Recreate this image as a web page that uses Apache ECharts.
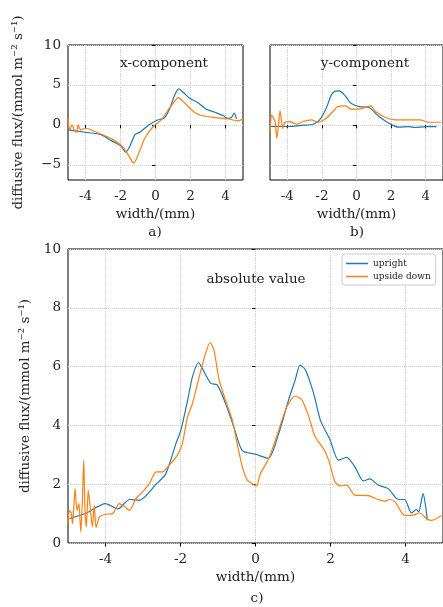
<!DOCTYPE html>
<html lang="en">
<head>
    <meta charset="UTF-8">
    <title>diffusive flux</title>
    <script src="https://cdn.jsdelivr.net/npm/echarts@6/dist/echarts.min.js"></script>
</head>
<body style="margin:0">
    <div id="chart" style="width:443px;height:607px;"></div>
    <script>
        // a) x-component
        var xcompUpWidth = [-4.99, -4.04, -3.09, -2.51, -1.94, -1.71, -1.47, -1.18, -0.9, -0.42, 0.06, 0.53, 0.82, 1.1, 1.33, 1.58, 1.96, 2.44, 2.91, 3.39, 3.87, 4.11, 4.34, 4.5, 4.63];
        var xcompUpFlux  = [-0.63, -0.92, -1.25, -2.0, -2.7, -3.42, -2.7, -1.25, -0.92, -0.08, 0.54, 0.92, 2.08, 3.75, 4.5, 4.08, 3.33, 2.75, 1.96, 1.58, 1.17, 0.83, 0.92, 1.46, 0.75];
        var xcompDownWidth = [-4.99, -4.9, -4.76, -4.65, -4.51, -4.42, -4.27, -4.04, -3.75, -3.47, -3.09, -2.51, -1.94, -1.56, -1.24, -0.99, -0.61, -0.13, 0.34, 0.72, 1.01, 1.3, 1.68, 2.25, 2.63, 3.39, 4.15, 4.72, 5.0];
        var xcompDownFlux  = [0.83, -0.63, 0, -0.63, -0.92, 0, -0.63, -0.42, -0.55, -0.83, -1.17, -1.75, -2.6, -3.75, -4.8, -3.75, -1.67, -0.2, 0.63, 1.88, 2.7, 3.42, 2.7, 1.54, 1.17, 0.92, 0.75, 0.5, 0.75];

        // b) y-component
        var ycompUpWidth = [-4.99, -4.04, -3.09, -2.51, -2.13, -1.75, -1.47, -1.28, -0.99, -0.7, -0.32, 0.15, 0.72, 1.3, 1.87, 2.44, 3.01, 3.39, 3.96, 4.63];
        var ycompUpFlux  = [-0.2, -0.2, -0.04, 0.08, 0.63, 2.08, 3.67, 4.17, 4.25, 3.75, 2.7, 2.29, 2.17, 1.04, 0.21, -0.29, -0.21, -0.33, -0.21, -0.21];
        var ycompDownWidth = [-4.99, -4.9, -4.8, -4.7, -4.61, -4.51, -4.42, -4.32, -4.27, -4.13, -3.85, -3.47, -3.09, -2.61, -2.23, -1.75, -1.37, -1.09, -0.61, -0.32, 0.15, 0.53, 0.82, 1.1, 1.68, 2.25, 3.01, 3.68, 4.15, 4.88];
        var ycompDownFlux  = [-0.83, 1.25, 0.83, 0.4, -1.67, 0, 1.75, 0.2, -0.42, 0.33, 0.42, 0.08, 0.42, 0.63, 0.33, 0.83, 1.67, 2.29, 2.38, 1.96, 1.96, 2.21, 2.38, 1.67, 0.92, 0.63, 0.63, 0.63, 0.33, 0.33];

        // c) absolute value
        var absUpWidth = [-4.96, -4.51, -4.0, -3.67, -3.36, -3.1, -2.65, -2.39, -2.12, -1.99, -1.81, -1.68, -1.52, -1.42, -1.19, -1.02, -0.8, -0.58, -0.35, 0, 0.34, 0.62, 0.88, 1.06, 1.19, 1.33, 1.55, 1.73, 1.99, 2.21, 2.43, 2.65, 2.88, 3.05, 3.27, 3.54, 3.76, 3.89, 3.98, 4.16, 4.29, 4.35, 4.47, 4.54, 4.58];
        var absUpFlux  = [0.83, 1.02, 1.34, 1.16, 1.48, 1.45, 2.0, 2.36, 3.39, 3.84, 4.86, 5.66, 6.14, 5.94, 5.43, 5.38, 4.75, 3.95, 3.14, 3.02, 2.88, 3.73, 4.86, 5.55, 6.05, 5.89, 5.09, 4.18, 3.5, 2.82, 2.91, 2.59, 2.11, 2.18, 1.97, 1.85, 1.51, 1.48, 1.48, 1.02, 1.14, 1.06, 1.68, 1.23, 0.77];
        var absDownWidth = [-5.0, -4.96, -4.91, -4.88, -4.85, -4.81, -4.76, -4.71, -4.66, -4.62, -4.58, -4.55, -4.51, -4.46, -4.41, -4.35, -4.3, -4.25, -4.16, -3.98, -3.81, -3.63, -3.5, -3.36, -3.19, -3.01, -2.83, -2.65, -2.48, -2.3, -2.08, -1.95, -1.81, -1.68, -1.5, -1.33, -1.21, -1.11, -0.97, -0.8, -0.62, -0.49, -0.35, -0.22, -0.09, 0.02, 0.13, 0.31, 0.44, 0.62, 0.84, 1.06, 1.24, 1.42, 1.59, 1.81, 1.95, 2.12, 2.26, 2.43, 2.65, 3.01, 3.27, 3.45, 3.58, 3.72, 3.98, 4.16, 4.38, 4.56, 4.69, 4.95];
        var absDownFlux  = [0.66, 1.1, 1.0, 0.66, 1.1, 1.85, 1.1, 1.34, 0.38, 1.34, 2.82, 1.23, 0.55, 1.8, 1.23, 0.55, 1.28, 0.52, 0.89, 0.98, 1.0, 1.34, 1.25, 1.11, 1.51, 1.74, 2.02, 2.42, 2.42, 2.65, 2.99, 3.39, 4.3, 4.75, 5.66, 6.45, 6.82, 6.57, 5.55, 4.86, 4.18, 3.39, 2.59, 2.14, 2.02, 1.93, 2.36, 2.76, 3.16, 3.84, 4.64, 5.0, 4.86, 4.3, 3.61, 3.22, 2.82, 2.08, 1.94, 1.97, 1.63, 1.61, 1.48, 1.42, 1.48, 1.4, 0.94, 0.94, 1.02, 0.83, 0.77, 0.93];

        var xTicks = [-4, -2, 0, 2, 4];
        var compTicks = [-5, 0, 5, 10];
        var absTicks = [0, 2, 4, 6, 8, 10];

        function zip(xs, ys) {
            var res = [];
            for (var i = 0; i < xs.length; i++) res.push([xs[i], ys[i]]);
            return res;
        }

        var FONT = 'DejaVu Serif';
        var FS = 13.5;
        var BLUE = '#1f77b4', ORANGE = '#ff7f0e';
        var fluxName = 'diffusive flux/(mmol m\u207B\u00B2 s\u207B\u00B9)';

        function xAxis(idx) {
            return {
                type: 'value', gridIndex: idx, min: -5, max: 5,
                name: 'width/(mm)', nameLocation: 'middle', nameGap: 27,
                nameTextStyle: {fontFamily: FONT, fontSize: FS, color: '#222'},
                axisLine: {show: false},
                axisTick: {show: true, length: 3.5, customValues: xTicks, lineStyle: {color: '#000'}},
                axisLabel: {customValues: xTicks, fontFamily: FONT, fontSize: FS, color: '#222', margin: 9,
                    formatter: function (v) { return String(v); }},
                splitLine: {show: true, lineStyle: {color: '#cfcfcf', type: 'dotted', width: 1}}
            };
        }
        function yAxis(idx, ticks, min, max, showLabel, gap) {
            return {
                type: 'value', gridIndex: idx, min: min, max: max,
                name: showLabel ? fluxName : '', nameLocation: 'middle', nameGap: gap, nameRotate: 90,
                nameTextStyle: {fontFamily: FONT, fontSize: FS, color: '#222'},
                axisLine: {show: false},
                axisTick: {show: true, length: 3.5, customValues: ticks, lineStyle: {color: '#000'}},
                axisLabel: {show: showLabel, customValues: ticks, fontFamily: FONT, fontSize: FS, color: '#222', margin: 7,
                    formatter: function (v) { return String(v).replace('-', '\u2212'); }},
                splitLine: {show: true, lineStyle: {color: '#cfcfcf', type: 'dotted', width: 1}}
            };
        }
        function line(name, idx, data) {
            return {
                name: name, type: 'line', xAxisIndex: idx, yAxisIndex: idx,
                data: data, showSymbol: false, smooth: 0.25,
                lineStyle: {width: 1.2, color: name === 'upright' ? BLUE : ORANGE},
                itemStyle: {color: name === 'upright' ? BLUE : ORANGE},
                animation: false
            };
        }
        function label(text, x, y) {
            return {type: 'text', x: x, y: y, z: 10,
                style: {text: text, fontFamily: FONT, fontSize: FS, fill: '#222', textAlign: 'center', textVerticalAlign: 'middle'}};
        }

        var chart = echarts.init(document.getElementById('chart'));
        chart.setOption({
            backgroundColor: '#fff',
            animation: false,
            grid: [
                {left: 68, top: 45, width: 175, height: 135, show: true, borderColor: '#000', borderWidth: 1},
                {left: 270, top: 45, width: 175, height: 135, show: true, borderColor: '#000', borderWidth: 1},
                {left: 68, top: 249, width: 377, height: 294, show: true, borderColor: '#000', borderWidth: 1}
            ],
            xAxis: [xAxis(0), xAxis(1), xAxis(2)],
            yAxis: [
                yAxis(0, compTicks, -6.9, 10, true, 43),
                yAxis(1, compTicks, -6.9, 10, false, 0),
                yAxis(2, absTicks, 0, 10, true, 34)
            ],
            legend: {
                left: 342, top: 254, orient: 'vertical',
                data: ['upright', 'upside down'],
                icon: 'rect', itemWidth: 22, itemHeight: 1.5, itemGap: 4,
                padding: [5, 5, 4, 4],
                borderColor: '#ccc', borderWidth: 1, borderRadius: 3, backgroundColor: '#fff',
                textStyle: {fontFamily: FONT, fontSize: 9, color: '#222'}
            },
            graphic: [
                label('x-component', 164, 63),
                label('y-component', 365, 63),
                label('absolute value', 256, 279),
                label('a)', 155, 232),
                label('b)', 357, 232),
                label('c)', 257, 598)
            ],
            series: [
                line('upright', 0, zip(xcompUpWidth, xcompUpFlux)),
                line('upside down', 0, zip(xcompDownWidth, xcompDownFlux)),
                line('upright', 1, zip(ycompUpWidth, ycompUpFlux)),
                line('upside down', 1, zip(ycompDownWidth, ycompDownFlux)),
                line('upright', 2, zip(absUpWidth, absUpFlux)),
                line('upside down', 2, zip(absDownWidth, absDownFlux))
            ]
        });
    </script>
</body>
</html>
